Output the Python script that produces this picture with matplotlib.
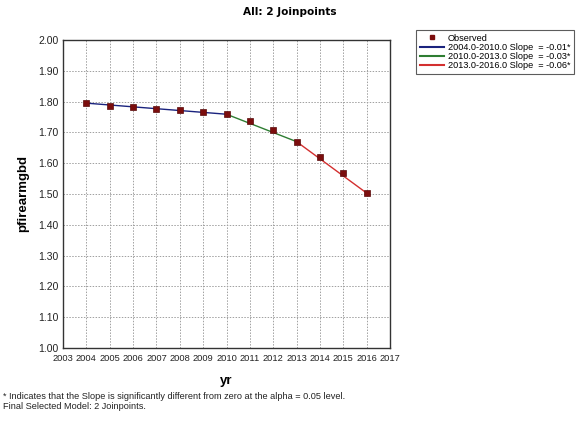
import matplotlib
matplotlib.use("Agg")
import matplotlib.pyplot as plt
from matplotlib.lines import Line2D

years = [2004, 2005, 2006, 2007, 2008, 2009, 2010, 2011, 2012, 2013, 2014, 2015, 2016]
observed = [1.797, 1.785, 1.782, 1.777, 1.772, 1.767, 1.759, 1.738, 1.707, 1.668, 1.621, 1.567, 1.503]

seg1_x = [2004, 2010]
seg1_y = [1.795, 1.759]
seg2_x = [2010, 2013]
seg2_y = [1.759, 1.670]
seg3_x = [2013, 2016]
seg3_y = [1.670, 1.503]

seg_labels = ["2004.0-2010.0 Slope  = -0.01*",
              "2010.0-2013.0 Slope  = -0.03*",
              "2013.0-2016.0 Slope  = -0.06*"]
seg_colors = ["#1a237e", "#2e7d32", "#d32f2f"]

xticks = list(range(2003, 2018))
yticks = [1.00, 1.10, 1.20, 1.30, 1.40, 1.50, 1.60, 1.70, 1.80, 1.90, 2.00]

plt.rcParams['font.family'] = ['Liberation Sans', 'DejaVu Sans']

W, H = 580, 423
fig = plt.figure(figsize=(W / 100, H / 100), dpi=100)
ax = fig.add_axes([63 / W, 1 - 348 / H, (390 - 63) / W, (348 - 40) / H])

ax.plot(seg1_x, seg1_y, color=seg_colors[0], lw=1.0, zorder=3)
ax.plot(seg2_x, seg2_y, color=seg_colors[1], lw=1.0, zorder=3)
ax.plot(seg3_x, seg3_y, color=seg_colors[2], lw=1.0, zorder=3)
ax.plot(years, observed, ls='none', marker='s', ms=4.2, color='#7b0d0d',
        mec='#5a0a0a', mew=0.5, zorder=4)

ax.set_xlim(2003, 2017)
ax.set_ylim(1.0, 2.0)
ax.set_xticks(xticks)
ax.set_xticklabels([str(x) for x in xticks])
ax.set_yticks(yticks)
ax.set_yticklabels([f"{v:.2f}" for v in yticks])
ax.tick_params(axis='x', length=0, labelsize=6.7, colors='#222222', pad=4)
ax.tick_params(axis='y', length=0, labelsize=7.5, colors='#222222', pad=3)
ax.grid(True, color='#a0a0a0', ls=(0, (1.5, 1.5)), lw=0.7)
for s in ax.spines.values():
    s.set_color('#333333')
    s.set_linewidth(1.0)

ax.set_xlabel("yr", fontsize=9.5, fontweight='bold', labelpad=9)
ax.set_ylabel("pfirearmgbd", fontsize=9.5, fontweight='bold', labelpad=7)

fig.text(290 / W, 1 - 12 / H, "All: 2 Joinpoints", ha='center', va='center',
         fontsize=7.6, fontweight='bold', family='DejaVu Sans')

handles = [Line2D([], [], ls='none', marker='s', ms=3, color='#7b0d0d')]
handles += [Line2D([], [], color=c, lw=1.5) for c in seg_colors]
labels = ["Observed"] + seg_labels
leg = fig.legend(handles, labels, loc='upper left',
                 bbox_to_anchor=(416 / W, 1 - 30 / H), fontsize=6.6,
                 frameon=True, fancybox=False, edgecolor='#333333',
                 handlelength=2.6, handletextpad=0.5, labelspacing=0.02,
                 borderpad=0.4, borderaxespad=0)
leg.get_frame().set_linewidth(0.8)

fig.text(3 / W, 1 - 396 / H,
         "* Indicates that the Slope is significantly different from zero at the alpha = 0.05 level.",
         fontsize=6.6, va='center', ha='left', color='#222222')
fig.text(3 / W, 1 - 406 / H, "Final Selected Model: 2 Joinpoints.",
         fontsize=6.6, va='center', ha='left', color='#222222')

fig.savefig("out.png", dpi=100)
